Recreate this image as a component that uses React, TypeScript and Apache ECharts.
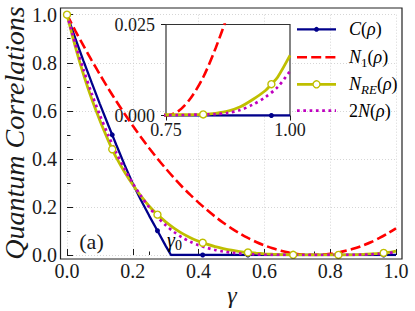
import React, { useEffect, useRef } from 'react';
import * as echarts from 'echarts';

// ---------------- data ----------------
const gammaGrid = [
  0, 0.025, 0.05, 0.075, 0.1, 0.125, 0.15, 0.175, 0.2, 0.225, 0.25, 0.275, 0.3, 0.325, 0.35, 0.375, 0.4,
  0.425, 0.45, 0.475, 0.5, 0.525, 0.55, 0.575, 0.6, 0.625, 0.65, 0.675, 0.7, 0.725, 0.75, 0.775, 0.8,
  0.825, 0.85, 0.875, 0.9, 0.925, 0.95, 0.975, 1.0,
];
const concurrenceC = [
  1.0, 0.902, 0.808, 0.717, 0.628, 0.542, 0.458, 0.375, 0.297, 0.228, 0.163, 0.101, 0.038, 0, 0, 0, 0,
  0, 0, 0, 0, 0, 0, 0, 0, 0, 0, 0, 0, 0, 0, 0, 0,
  0, 0, 0, 0, 0, 0, 0, 0,
];
const gammaZero = 0.316; // C(ρ) reaches zero here (γ0)
const negativityN1 = [
  1.0, 0.934, 0.871, 0.81, 0.751, 0.694, 0.64, 0.588, 0.538, 0.49, 0.444, 0.401, 0.36, 0.321, 0.284, 0.25, 0.218,
  0.188, 0.16, 0.134, 0.111, 0.09, 0.071, 0.054, 0.04, 0.028, 0.018, 0.01, 0.0044, 0.0011, 0.0, 0.0012, 0.0048,
  0.0105, 0.0185, 0.028, 0.04, 0.054, 0.071, 0.09, 0.111,
];
const negativityNRE = [
  1.0, 0.868, 0.752, 0.65, 0.56, 0.478, 0.405, 0.345, 0.292, 0.245, 0.203, 0.168, 0.138, 0.112, 0.09, 0.072, 0.057,
  0.045, 0.035, 0.027, 0.02, 0.0145, 0.0105, 0.0075, 0.005, 0.0032, 0.0018, 0.001, 0.0006, 0.0003, 0.0002, 0.0002, 0.0002,
  0.0003, 0.0006, 0.0012, 0.0024, 0.0044, 0.0068, 0.0105, 0.0165,
];
const twiceNegativity = [
  1.0, 0.88, 0.772, 0.672, 0.582, 0.5, 0.425, 0.358, 0.298, 0.245, 0.198, 0.158, 0.124, 0.096, 0.073, 0.055, 0.041,
  0.03, 0.021, 0.0145, 0.0098, 0.0064, 0.004, 0.0024, 0.0013, 0.0007, 0.0003, 0.0002, 0.0001, 0.0001, 0.0001, 0.0001, 0.0002,
  0.0003, 0.0004, 0.0007, 0.0015, 0.003, 0.005, 0.0078, 0.0122,
];
const markerGamma = [0, 0.1375, 0.275, 0.4125, 0.55, 0.6875, 0.825, 0.9625];
const markerC = [1.0, 0.5, 0.101, 0, 0, 0, 0, 0];
const markerNRE = [1.0, 0.44, 0.168, 0.051, 0.0105, 0.0008, 0.0003, 0.0086];

const mainTickStep = 0.2;
const mainMinorStepX = 0.25;
const insetXRange = [0.75, 1.0];
const insetYRange = [0, 0.025];

// ---------------- styles ----------------
const FONT = 'Liberation Serif';
const BLUE = '#00008B';
const RED = '#FF0000';
const YELLOW = '#BFBF00';
const MAGENTA = '#BF00BF';
const INK = '#1a1a1a';

function buildLine(gs: number[], ys: number[], mg: number[], my: number[], extra: number[][] = []) {
  const pts = new Map<number, { y: number; m: boolean }>();
  gs.forEach((g, i) => pts.set(g, { y: ys[i], m: false }));
  extra.forEach(([g, y]) => pts.set(g, { y, m: false }));
  mg.forEach((g, i) => pts.set(g, { y: my[i], m: true }));
  return [...pts.entries()]
    .sort((a, b) => a[0] - b[0])
    .map(([g, p]) => ({ value: [g, p.y], symbol: p.m ? 'circle' : 'none' }));
}

const cData = buildLine(gammaGrid, concurrenceC, markerGamma, markerC, [[gammaZero, 0]]);
const n1Data = gammaGrid.map((g, i) => [g, negativityN1[i]]);
const nreData = buildLine(gammaGrid, negativityNRE, markerGamma, markerNRE);
const twoNData = gammaGrid.map((g, i) => [g, twiceNegativity[i]]);

function seriesFor(idx: number) {
  return [
    {
      type: 'line', name: 'C', xAxisIndex: idx, yAxisIndex: idx, data: cData,
      symbol: 'circle', symbolSize: 5, showSymbol: true, showAllSymbol: true,
      itemStyle: { color: BLUE }, lineStyle: { color: BLUE, width: 2.3 }, clip: true, silent: true,
    },
    {
      type: 'line', name: 'N1', xAxisIndex: idx, yAxisIndex: idx, data: n1Data, symbol: 'none',
      smooth: 0.3, lineStyle: { color: RED, width: 2.6, type: [10, 4.2] }, clip: true, silent: true,
    },
    {
      type: 'line', name: 'NRE', xAxisIndex: idx, yAxisIndex: idx, data: nreData,
      symbol: 'circle', symbolSize: 7, showSymbol: true, showAllSymbol: true, smooth: 0.3,
      itemStyle: { color: '#ffffff', borderColor: YELLOW, borderWidth: 1.4 },
      lineStyle: { color: YELLOW, width: 2.8 }, clip: true, silent: true,
    },
    {
      type: 'line', name: '2N', xAxisIndex: idx, yAxisIndex: idx, data: twoNData, symbol: 'none',
      smooth: 0.3, lineStyle: { color: MAGENTA, width: 2.7, type: [2.7, 3.6] }, clip: true, silent: true,
    },
  ];
}

const legendRich = {
  i: { fontFamily: FONT, fontStyle: 'italic', fontSize: 18, lineHeight: 24, color: INK, verticalAlign: 'middle' },
  r: { fontFamily: FONT, fontSize: 18, lineHeight: 24, color: INK, verticalAlign: 'middle' },
  s: { fontFamily: FONT, fontSize: 13, lineHeight: 24, color: INK, verticalAlign: 'bottom' },
  si: { fontFamily: FONT, fontStyle: 'italic', fontSize: 13, lineHeight: 24, color: INK, verticalAlign: 'bottom' },
};

const legendRows = [
  { y: 29.3, text: '{i|C}{r|(}{i|ρ}{r|)}', color: BLUE, width: 2.3, dash: null as number[] | null, marker: 'dot' },
  { y: 57.3, text: '{i|N}{s|1}{r|(}{i|ρ}{r|)}', color: RED, width: 2.6, dash: [10, 4.2], marker: '' },
  { y: 84.3, text: '{i|N}{si|RE}{r|(}{i|ρ}{r|)}', color: YELLOW, width: 2.8, dash: null, marker: 'open' },
  { y: 110.7, text: '{r|2}{i|N}{r|(}{i|ρ}{r|)}', color: MAGENTA, width: 2.7, dash: [2.7, 3.6], marker: '' },
];

function legendGraphics() {
  const els: any[] = [];
  legendRows.forEach((r) => {
    els.push({
      type: 'line', z: 20, silent: true,
      shape: { x1: 297, y1: r.y, x2: 336, y2: r.y },
      style: { stroke: r.color, lineWidth: r.width, lineDash: r.dash || undefined },
    });
    if (r.marker === 'dot') {
      els.push({ type: 'circle', z: 21, silent: true, shape: { cx: 316.5, cy: r.y, r: 2.5 }, style: { fill: r.color } });
    } else if (r.marker === 'open') {
      els.push({
        type: 'circle', z: 21, silent: true, shape: { cx: 316.5, cy: r.y, r: 3.5 },
        style: { fill: '#fff', stroke: r.color, lineWidth: 1.4 },
      });
    }
    els.push({
      type: 'text', z: 21, silent: true, x: 349, y: r.y,
      style: { text: r.text, rich: legendRich, verticalAlign: 'middle', align: 'left', fontFamily: FONT },
    });
  });
  return els;
}

const tickLabel = { fontFamily: FONT, fontSize: 20, color: INK };

const option: any = {
  animation: false,
  textStyle: { fontFamily: FONT },
  grid: [
    { left: 67, top: 14.7, right: 19, bottom: 56, outerBoundsMode: 'none' },
    { left: 166, top: 24.5, right: 125, bottom: 195.5, outerBoundsMode: 'none' },
    { left: 67, top: 14.7, right: 19, bottom: 56, outerBoundsMode: 'none' },
  ],
  xAxis: [
    {
      type: 'value', gridIndex: 0, min: 0, max: 1, interval: mainTickStep, position: 'bottom', offset: 4,
      axisLine: { show: false },
      axisTick: { show: true, inside: true, length: 6, lineStyle: { color: INK, width: 1 } },
      axisLabel: { ...tickLabel, margin: 2, formatter: (v: number) => v.toFixed(1) },
      splitLine: { show: true, lineStyle: { color: '#cccccc', width: 0.8, type: [1, 2] } },
    },
    {
      type: 'value', gridIndex: 1, min: insetXRange[0], max: insetXRange[1], interval: 0.25, position: 'bottom',
      axisLine: { show: false },
      axisTick: { show: true, inside: false, length: 5, lineStyle: { color: INK, width: 1 } },
      axisLabel: { ...tickLabel, fontSize: 18, margin: 5, formatter: (v: number) => v.toFixed(2) },
      splitLine: { show: false },
    },
    {
      type: 'value', gridIndex: 2, min: 0, max: 1, interval: mainMinorStepX, position: 'bottom', offset: 4,
      axisLine: { show: false },
      axisTick: { show: true, inside: true, length: 3.5, lineStyle: { color: INK, width: 1 } },
      axisLabel: { show: false }, splitLine: { show: false },
    },
  ],
  yAxis: [
    {
      type: 'value', gridIndex: 0, min: 0, max: 1, interval: mainTickStep, position: 'left', offset: 6,
      axisLine: { show: false },
      axisTick: { show: true, inside: true, length: 6, lineStyle: { color: INK, width: 1 } },
      minorTick: { show: true, splitNumber: 2, length: 3.5, lineStyle: { color: INK, width: 1 } },
      axisLabel: { ...tickLabel, margin: 4, formatter: (v: number) => v.toFixed(1) },
      splitLine: { show: true, lineStyle: { color: '#cccccc', width: 0.8, type: [1, 2] } },
    },
    {
      type: 'value', gridIndex: 1, min: insetYRange[0], max: insetYRange[1], interval: 0.025, position: 'left',
      axisLine: { show: false },
      axisTick: { show: true, inside: false, length: 5, lineStyle: { color: INK, width: 1 } },
      axisLabel: { ...tickLabel, fontSize: 18, margin: 11, formatter: (v: number) => v.toFixed(3) },
      splitLine: { show: false },
    },
    { type: 'value', gridIndex: 2, min: 0, max: 1, show: false },
  ],
  series: [...seriesFor(0), ...seriesFor(1)],
  graphic: [
    {
      type: 'rect', z: 1, silent: true,
      shape: { x: 166, y: 24.5, width: 124, height: 91 },
      style: { fill: '#ffffff', stroke: '#333333', lineWidth: 1.2 },
    },
    {
      type: 'rect', z: 10, silent: true,
      shape: { x: 60.5, y: 8, width: 341.5, height: 251 },
      style: { fill: 'none', stroke: '#222222', lineWidth: 1.2 },
    },
    ...legendGraphics(),
    {
      type: 'text', z: 20, silent: true, x: 14, y: 133, rotation: Math.PI / 2,
      style: { text: 'Quantum Correlations', fontFamily: FONT, fontStyle: 'italic', fontSize: 28, fill: INK, align: 'center', verticalAlign: 'middle' },
    },
    {
      type: 'text', z: 20, silent: true, x: 232, y: 294.6,
      style: { text: 'γ', fontFamily: FONT, fontStyle: 'italic', fontSize: 24, fill: INK, align: 'center', verticalAlign: 'middle' },
    },
    {
      type: 'text', z: 20, silent: true, x: 91.5, y: 241,
      style: { text: '(a)', fontFamily: FONT, fontSize: 22, fill: INK, align: 'center', verticalAlign: 'middle' },
    },
    {
      type: 'text', z: 20, silent: true, x: 167, y: 240,
      style: {
        text: '{g|γ}{s|0}', verticalAlign: 'middle', align: 'left', fontFamily: FONT,
        rich: {
          g: { fontFamily: FONT, fontStyle: 'italic', fontSize: 20, lineHeight: 24, color: INK, verticalAlign: 'middle' },
          s: { fontFamily: FONT, fontSize: 14, lineHeight: 24, color: INK, verticalAlign: 'bottom' },
        },
      },
    },
  ],
};

export default function App() {
  const ref = useRef<HTMLDivElement>(null);
  useEffect(() => {
    const chart = echarts.init(ref.current!, null, { renderer: 'svg' });
    chart.setOption(option);
    return () => chart.dispose();
  }, []);
  return <div ref={ref} style={{ position: 'fixed', left: 0, top: 0, width: 415, height: 311, background: '#fff' }} />;
}
